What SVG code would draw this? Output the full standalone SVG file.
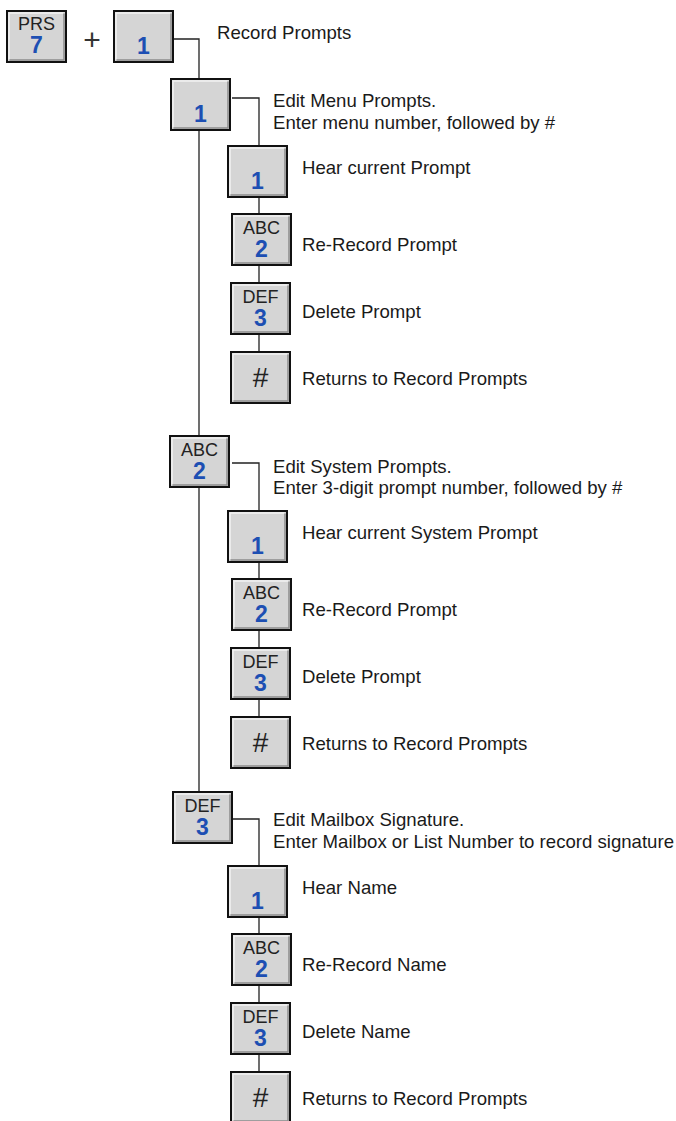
<svg xmlns="http://www.w3.org/2000/svg" xmlns:xlink="http://www.w3.org/1999/xlink" width="676" height="1121" viewBox="0 0 676 1121">
  <style>
    .wire { fill: none; stroke: #222; stroke-width: 1.3; }
    .lbl { font-family: "Liberation Sans", Arial, sans-serif; font-size: 18.6px; fill: #1a1a1a; }
    .letters { font-family: "Liberation Sans", Arial, sans-serif; font-size: 18px; fill: #222; text-anchor: middle; }
    .digit { font-family: "Liberation Sans", Arial, sans-serif; font-size: 23px; font-weight: bold; fill: #1d4fb3; text-anchor: middle; }
    .hash { font-family: "Liberation Sans", Arial, sans-serif; font-size: 28px; fill: #222; text-anchor: middle; }
    .plus { font-family: "Liberation Sans", Arial, sans-serif; font-size: 30px; fill: #333; text-anchor: middle; }
  </style>
  <defs>
    <!-- bevelled phone keycap, 61 x 53 -->
    <g id="cap">
      <rect x="1" y="1" width="59" height="51" fill="#d5d5d5" stroke="#111" stroke-width="2"/>
      <path d="M3 49.5 V3 H57.5" fill="none" stroke="#f2f2f2" stroke-width="1.5"/>
      <path d="M3.5 50 H58 V3.5" fill="none" stroke="#8c8c8c" stroke-width="1.5"/>
    </g>
  </defs>

  <rect width="676" height="1121" fill="#ffffff"/>

  <!-- connectors -->
  <g id="connectors">
    <path class="wire" d="M173 39 H199 V791"/>
    <path class="wire" d="M232 98 H259 V352"/>
    <path class="wire" d="M232 463 H259 V717"/>
    <path class="wire" d="M233 819 H259 V1072"/>
  </g>

  <!-- start sequence -->
  <g id="key-prs7" transform="translate(6,10)">
    <use xlink:href="#cap"/>
    <text class="letters" x="30.5" y="20">PRS</text>
    <text class="digit" x="30.5" y="43">7</text>
  </g>
  <text id="plus" class="plus" x="92" y="50">+</text>
  <g id="key-record" transform="translate(113,10)">
    <use xlink:href="#cap"/>
    <text class="digit" x="30.5" y="44">1</text>
  </g>
  <text class="lbl" x="217" y="39">Record Prompts</text>

  <!-- 1: menu prompts -->
  <g id="key-menu" transform="translate(170,78)">
    <use xlink:href="#cap"/>
    <text class="digit" x="30.5" y="44">1</text>
  </g>
  <text class="lbl" x="273" y="107">Edit Menu Prompts.</text>
  <text class="lbl" x="273" y="129">Enter menu number, followed by #</text>

  <g id="key-menu-hear" transform="translate(227,145)">
    <use xlink:href="#cap"/>
    <text class="digit" x="30.5" y="44">1</text>
  </g>
  <text class="lbl" x="302" y="174">Hear current Prompt</text>

  <g id="key-menu-rerecord" transform="translate(231,213)">
    <use xlink:href="#cap"/>
    <text class="letters" x="30.5" y="21">ABC</text>
    <text class="digit" x="30.5" y="44">2</text>
  </g>
  <text class="lbl" x="302" y="251">Re-Record Prompt</text>

  <g id="key-menu-delete" transform="translate(230,282)">
    <use xlink:href="#cap"/>
    <text class="letters" x="30.5" y="21">DEF</text>
    <text class="digit" x="30.5" y="44">3</text>
  </g>
  <text class="lbl" x="302" y="318">Delete Prompt</text>

  <g id="key-menu-return" transform="translate(230,351)">
    <use xlink:href="#cap"/>
    <text class="hash" x="30.5" y="36">#</text>
  </g>
  <text class="lbl" x="302" y="385">Returns to Record Prompts</text>

  <!-- 2: system prompts -->
  <g id="key-system" transform="translate(169,435)">
    <use xlink:href="#cap"/>
    <text class="letters" x="30.5" y="21">ABC</text>
    <text class="digit" x="30.5" y="44">2</text>
  </g>
  <text class="lbl" x="273" y="473">Edit System Prompts.</text>
  <text class="lbl" x="273" y="494">Enter 3-digit prompt number, followed by #</text>

  <g id="key-system-hear" transform="translate(227,510)">
    <use xlink:href="#cap"/>
    <text class="digit" x="30.5" y="44">1</text>
  </g>
  <text class="lbl" x="302" y="539">Hear current System Prompt</text>

  <g id="key-system-rerecord" transform="translate(231,578)">
    <use xlink:href="#cap"/>
    <text class="letters" x="30.5" y="21">ABC</text>
    <text class="digit" x="30.5" y="44">2</text>
  </g>
  <text class="lbl" x="302" y="616">Re-Record Prompt</text>

  <g id="key-system-delete" transform="translate(230,647)">
    <use xlink:href="#cap"/>
    <text class="letters" x="30.5" y="21">DEF</text>
    <text class="digit" x="30.5" y="44">3</text>
  </g>
  <text class="lbl" x="302" y="683">Delete Prompt</text>

  <g id="key-system-return" transform="translate(230,716)">
    <use xlink:href="#cap"/>
    <text class="hash" x="30.5" y="36">#</text>
  </g>
  <text class="lbl" x="302" y="750">Returns to Record Prompts</text>

  <!-- 3: mailbox signature -->
  <g id="key-signature" transform="translate(172,791)">
    <use xlink:href="#cap"/>
    <text class="letters" x="30.5" y="21">DEF</text>
    <text class="digit" x="30.5" y="44">3</text>
  </g>
  <text class="lbl" x="273" y="826">Edit Mailbox Signature.</text>
  <text class="lbl" x="273" y="848">Enter Mailbox or List Number to record signature</text>

  <g id="key-signature-hear" transform="translate(227,865)">
    <use xlink:href="#cap"/>
    <text class="digit" x="30.5" y="44">1</text>
  </g>
  <text class="lbl" x="302" y="894">Hear Name</text>

  <g id="key-signature-rerecord" transform="translate(231,933)">
    <use xlink:href="#cap"/>
    <text class="letters" x="30.5" y="21">ABC</text>
    <text class="digit" x="30.5" y="44">2</text>
  </g>
  <text class="lbl" x="302" y="971">Re-Record Name</text>

  <g id="key-signature-delete" transform="translate(230,1002)">
    <use xlink:href="#cap"/>
    <text class="letters" x="30.5" y="21">DEF</text>
    <text class="digit" x="30.5" y="44">3</text>
  </g>
  <text class="lbl" x="302" y="1038">Delete Name</text>

  <g id="key-signature-return" transform="translate(230,1071)">
    <use xlink:href="#cap"/>
    <text class="hash" x="30.5" y="36">#</text>
  </g>
  <text class="lbl" x="302" y="1105">Returns to Record Prompts</text>
</svg>
